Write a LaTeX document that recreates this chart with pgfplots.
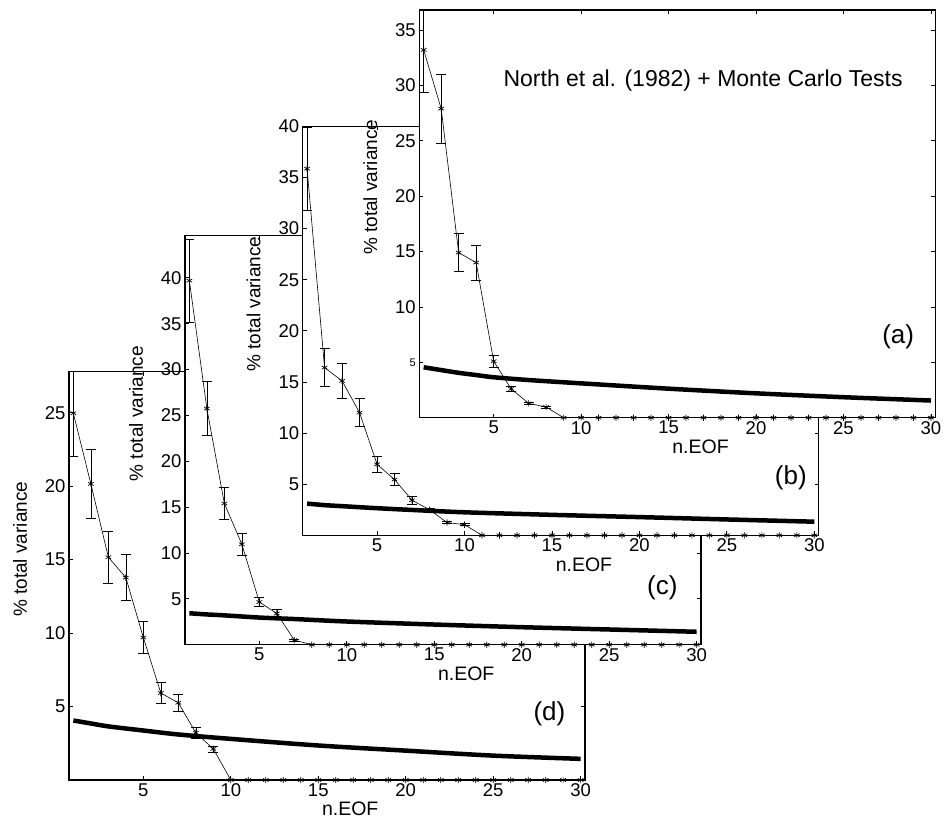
\documentclass[border=0pt]{standalone}
\usepackage{fontspec}
\setmainfont{Liberation Sans}
\usepackage{pgfplots}
\usepackage{pgfplotstable}
\pgfplotsset{compat=1.18}

\pgfplotstableread{
x y e
1 33.2 3.8
2 27.9 3.1
3 14.9 1.7
4 14.0 1.6
5 5.1 0.55
6 2.6 0.2
7 1.3 0.12
8 0.96 0.1
9 0 0
10 0 0
11 0 0
12 0 0
13 0 0
14 0 0
15 0 0
16 0 0
17 0 0
18 0 0
19 0 0
20 0 0
21 0 0
22 0 0
23 0 0
24 0 0
25 0 0
26 0 0
27 0 0
28 0 0
29 0 0
30 0 0
}\dataA

\pgfplotstableread{
x y e
1 35.85 4.1
2 16.4 1.85
3 15.1 1.7
4 12.0 1.35
5 6.95 0.77
6 5.45 0.6
7 3.43 0.35
8 2.5 0.15
9 1.25 0.1
10 1.04 0.1
11 0 0
12 0 0
13 0 0
14 0 0
15 0 0
16 0 0
17 0 0
18 0 0
19 0 0
20 0 0
21 0 0
22 0 0
23 0 0
24 0 0
25 0 0
26 0 0
27 0 0
28 0 0
29 0 0
30 0 0
}\dataB

\pgfplotstableread{
x y e
1 39.7 4.5
2 25.75 2.95
3 15.4 1.75
4 10.95 1.2
5 4.65 0.5
6 3.4 0.45
7 0.5 0.1
8 0 0
9 0 0
10 0 0
11 0 0
12 0 0
13 0 0
14 0 0
15 0 0
16 0 0
17 0 0
18 0 0
19 0 0
20 0 0
21 0 0
22 0 0
23 0 0
24 0 0
25 0 0
26 0 0
27 0 0
28 0 0
29 0 0
30 0 0
}\dataC

\pgfplotstableread{
x y e
1 24.97 2.9
2 20.16 2.35
3 15.17 1.75
4 13.78 1.57
5 9.7 1.1
6 5.92 0.7
7 5.26 0.6
8 3.21 0.35
9 2.12 0.2
10 0 0
11 0 0
12 0 0
13 0 0
14 0 0
15 0 0
16 0 0
17 0 0
18 0 0
19 0 0
20 0 0
21 0 0
22 0 0
23 0 0
24 0 0
25 0 0
26 0 0
27 0 0
28 0 0
29 0 0
30 0 0
}\dataD

\tikzset{panellab/.style={font=\fontsize{26}{28}\selectfont}}

\pgfplotsset{
  eofpanel/.style={
    scale only axis,
    width=516pt,
    xmin=0.75, xmax=30.25, ymin=0,
    xtick={5,10,15,20,25,30},
    axis background/.style={fill=white},
    axis line style={line width=1.1pt},
    tick style={black, line width=0.8pt},
    major tick length=4pt,
    tick align=inside,
    /pgf/number format/assume math mode=true,
    tick label style={font=\fontsize{18.5}{20}\selectfont},
    xlabel={n.EOF},
    ylabel={\% total variance},
    every axis x label/.style={at={(axis description cs:0.545,-0.071)}, anchor=center, font=\fontsize{19.5}{21}\selectfont},
    every axis y label/.style={at={(axis description cs:-0.095,0.565)}, rotate=90, anchor=center, font=\fontsize{19}{21}\selectfont},
  },
  eofdata/.style={black, line width=0.6pt, mark=asterisk, mark size=3.2pt,
    mark options={line width=0.7pt, solid},
    error bars/.cd, y dir=both, y explicit, error mark=|,
    error mark options={line width=0.6pt, mark size=5pt, black}},
  thresh/.style={black, line width=4.5pt, no marks, smooth},
}

\begin{document}
\begin{tikzpicture}[x=1pt,y=1pt]
\useasboundingbox (0pt,0pt) rectangle (944pt,820pt);

% (d)
\begin{axis}[eofpanel, at={(69pt,40pt)}, anchor=south west, height=408.3pt,
  ymax=27.8, ytick={5,10,15,20,25}]
\addplot[eofdata] table[x=x, y=y, y error=e] {\dataD};
\addplot[thresh] coordinates {(1,4.05)(2,3.85)(3,3.65)(5,3.37)(7,3.1)(10,2.8)(15,2.35)(20,2.0)(25,1.66)(30,1.44)};
\node[panellab] at (rel axis cs:0.931,0.163) {(d)};
\end{axis}

% (c)
\begin{axis}[eofpanel, at={(185pt,175.3pt)}, anchor=south west, height=409pt,
  ymax=44.6, ytick={5,10,15,20,25,30,35,40}]
\addplot[eofdata] table[x=x, y=y, y error=e] {\dataC};
\addplot[thresh] coordinates {(1,3.43)(2,3.3)(3,3.2)(5,2.96)(7,2.8)(10,2.53)(15,2.2)(20,1.91)(25,1.66)(30,1.41)};
\node[panellab] at (rel axis cs:0.925,0.138) {(c)};
\end{axis}

% (b)
\begin{axis}[eofpanel, at={(302.7pt,284.7pt)}, anchor=south west, height=409pt,
  ymax=40, ytick={5,10,15,20,25,30,35,40}]
\addplot[eofdata] table[x=x, y=y, y error=e] {\dataB};
\addplot[thresh] coordinates {(1,3.1)(2,2.95)(3,2.85)(5,2.65)(7,2.48)(10,2.25)(15,2.0)(20,1.78)(25,1.55)(30,1.33)};
\node[panellab] at (rel axis cs:0.946,0.14) {(b)};
\end{axis}

% (a)
\begin{axis}[eofpanel, at={(419.3pt,402.3pt)}, anchor=south west, height=407.7pt,
  ymax=36.8, ytick={5,10,15,20,25,30,35},
  yticklabels={{\fontsize{11}{12}\selectfont 5},10,15,20,25,30,35}]
\addplot[eofdata] table[x=x, y=y, y error=e] {\dataA};
\addplot[thresh] coordinates {(1,4.55)(2,4.3)(3,4.05)(4,3.85)(5,3.65)(7,3.4)(10,3.1)(15,2.62)(20,2.2)(25,1.85)(30,1.55)};
\node[font=\fontsize{23}{26}\selectfont] at (rel axis cs:0.55,0.828) {North et al. (1982) + Monte Carlo Tests};
\node[panellab] at (rel axis cs:0.928,0.198) {(a)};
\end{axis}
\end{tikzpicture}
\end{document}
